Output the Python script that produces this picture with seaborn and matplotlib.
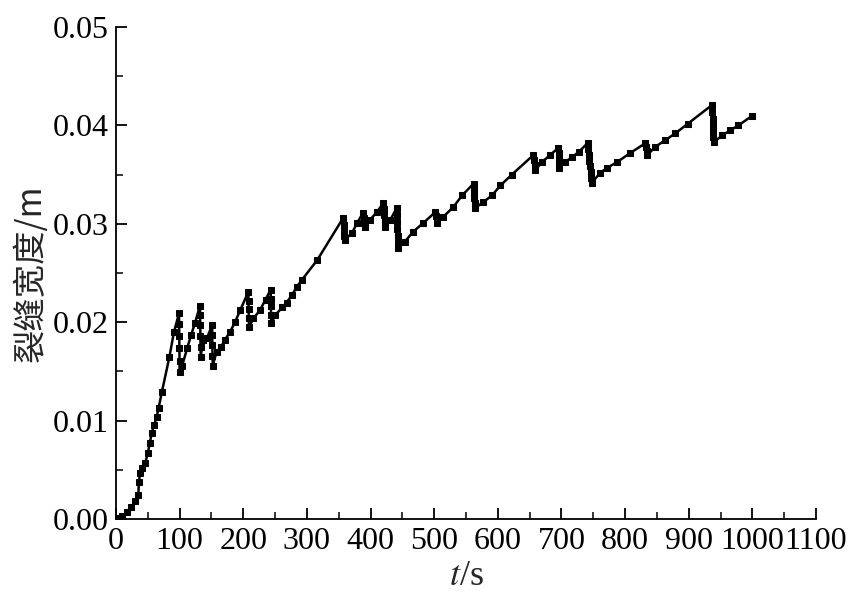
import matplotlib
matplotlib.use("Agg")
import matplotlib.pyplot as plt
import numpy as np
import pandas as pd
import seaborn as sns
from matplotlib.ticker import MultipleLocator, FormatStrFormatter

# time (s) and crack width (m)
t = [0, 4, 10, 17, 24, 30, 35, 36, 38, 41, 46, 50, 53, 56, 60, 64, 67, 72, 84, 91, 99,
     99.2, 99.4, 99.6, 99.8, 100, 104, 112, 118, 124, 132,
     132.2, 132.4, 132.6, 132.8, 133, 137, 143, 151,
     151.2, 151.4, 151.6, 152, 158, 165, 171, 179, 187, 195, 208,
     208.2, 208.4, 208.6, 209, 216, 226, 235, 243,
     243.2, 243.4, 243.6, 244, 250, 261, 268, 277, 284, 292, 316, 357,
     357.5, 358, 359, 360, 371, 379, 388, 389, 390, 391, 399, 410, 420,
     420.5, 421, 422, 423, 431, 441,
     441.3, 441.6, 442, 442.4, 442.7, 443, 454, 467, 483, 502, 503, 504, 505, 514, 530, 544, 562,
     562.4, 562.8, 563.2, 563.6, 564, 577, 591, 604, 622, 656, 657, 658, 659, 670, 682, 695,
     695.4, 695.8, 696.2, 696.6, 706, 717, 727, 741,
     742, 743, 744, 745, 746, 747, 748, 761, 772, 788, 808, 832, 833, 834, 835, 847, 863, 879,
     899, 937,
     937.3, 937.6, 938, 938.4, 938.7, 939, 953, 965, 978, 1000]
w = [0.0, 0.0001, 0.0003, 0.0007, 0.0012, 0.0018, 0.0024, 0.0038, 0.0047, 0.0052, 0.0057,
     0.0067, 0.0077, 0.0087, 0.0096, 0.0104, 0.0113, 0.0129, 0.0165, 0.0190, 0.0209,
     0.0198, 0.0186, 0.0174, 0.0161, 0.0149, 0.0156, 0.0174, 0.0187, 0.0199, 0.0217,
     0.0207, 0.0197, 0.0186, 0.0175, 0.0165, 0.0182, 0.0184, 0.0197,
     0.0187, 0.0177, 0.0166, 0.0156, 0.0170, 0.0175, 0.0182, 0.0190, 0.0200, 0.0212, 0.0231,
     0.0222, 0.0213, 0.0204, 0.0195, 0.0204, 0.0212, 0.0223, 0.0233,
     0.0224, 0.0216, 0.0207, 0.0199, 0.0207, 0.0215, 0.0220, 0.0228, 0.0236, 0.0243, 0.0263,
     0.0306,
     0.0299, 0.0293, 0.0288, 0.0284, 0.0291, 0.0301, 0.0311, 0.0306, 0.0301, 0.0297, 0.0304,
     0.0312, 0.0321,
     0.0315, 0.0309, 0.0303, 0.0297, 0.0304, 0.0316,
     0.0309, 0.0302, 0.0295, 0.0288, 0.0281, 0.0275, 0.0282, 0.0292, 0.0301, 0.0312, 0.0308,
     0.0305, 0.0301, 0.0307, 0.0317, 0.0329, 0.0341,
     0.0336, 0.0331, 0.0326, 0.0321, 0.0316, 0.0322, 0.0329, 0.0339, 0.0350, 0.0370, 0.0365,
     0.0360, 0.0355, 0.0363, 0.0370, 0.0377,
     0.0372, 0.0367, 0.0362, 0.0357, 0.0363, 0.0368, 0.0373, 0.0382,
     0.0376, 0.0370, 0.0364, 0.0359, 0.0353, 0.0347, 0.0342, 0.0352, 0.0357, 0.0363, 0.0372,
     0.0382, 0.0378, 0.0374, 0.0370, 0.0378, 0.0385, 0.0392, 0.0402, 0.0421,
     0.0414, 0.0407, 0.0400, 0.0394, 0.0388, 0.0383, 0.0390, 0.0395, 0.0400, 0.0410]

df = pd.DataFrame({"t": t, "w": w})

sns.set_style("ticks")
plt.rcParams["font.family"] = ["Liberation Serif", "DejaVu Serif"]
plt.rcParams["mathtext.fontset"] = "stix"

fig = plt.figure(figsize=(8.5, 6.02), dpi=100)
ax = fig.add_axes([0.1365, 0.1379, 0.8235, 0.8171])

sns.lineplot(data=df, x="t", y="w", ax=ax, estimator=None, sort=False,
             color="black", linewidth=1.8, marker="s", markersize=4,
             markeredgecolor="black", markerfacecolor="black")

ax.set_xlim(0, 1100)
ax.set_ylim(0, 0.05)
ax.xaxis.set_major_locator(MultipleLocator(100))
ax.xaxis.set_minor_locator(MultipleLocator(50))
ax.yaxis.set_major_locator(MultipleLocator(0.01))
ax.yaxis.set_minor_locator(MultipleLocator(0.005))
ax.yaxis.set_major_formatter(FormatStrFormatter("%.2f"))

sns.despine(ax=ax)
for s in ["left", "bottom"]:
    ax.spines[s].set_linewidth(1.3)
    ax.spines[s].set_color("black")

ax.tick_params(which="major", direction="in", length=8, width=1.3,
               labelsize=23, colors="black")
ax.tick_params(axis="x", which="major", pad=6)
ax.tick_params(axis="y", which="major", pad=5)
ax.tick_params(which="minor", direction="in", length=5, width=1.1, colors="black")

ax.set_xlabel("$t$/s", fontsize=26, labelpad=3)
ax.set_ylabel("裂缝宽度/m", fontsize=24, family=["Noto Sans CJK SC", "DejaVu Sans"],
              labelpad=3)

fig.savefig("out.png", dpi=100)
